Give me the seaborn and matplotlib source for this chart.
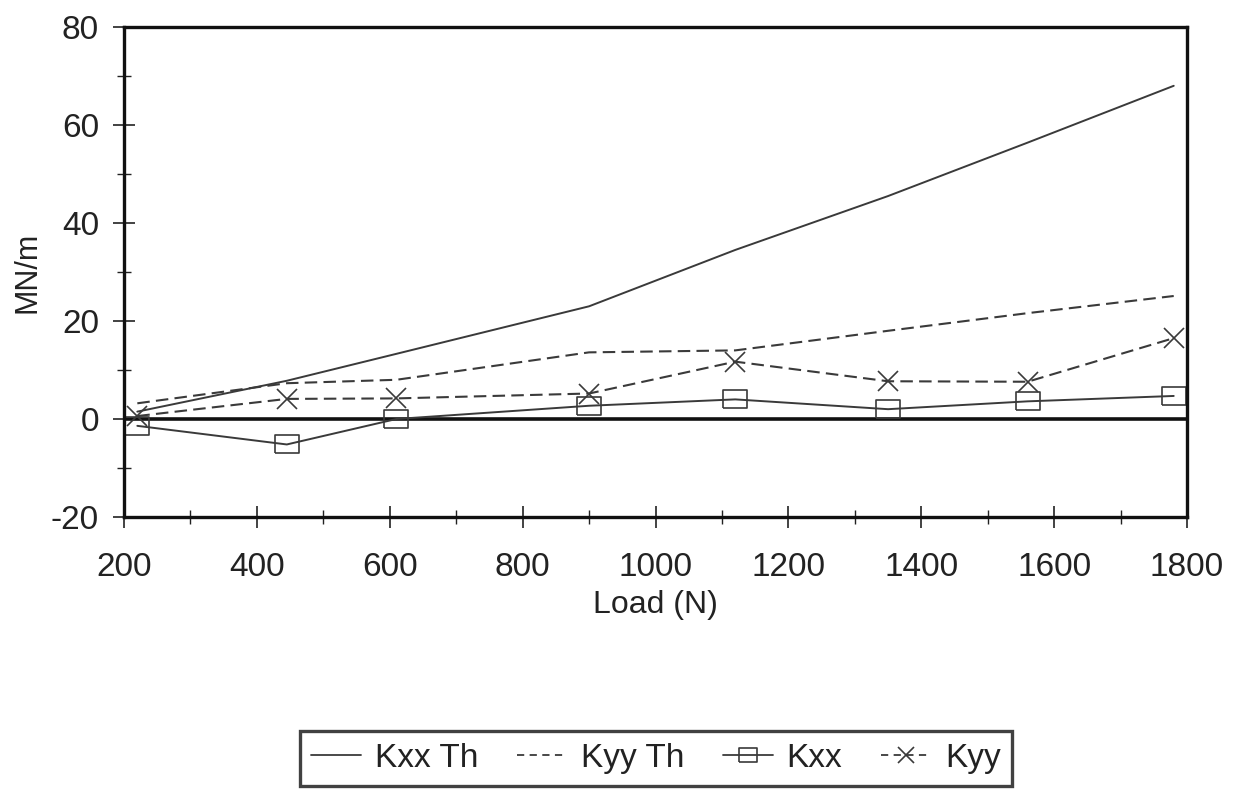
import matplotlib
matplotlib.use("Agg")
import matplotlib.pyplot as plt
import seaborn as sns
from matplotlib.lines import Line2D
from matplotlib.ticker import MultipleLocator

# Stiffness versus bearing load: theoretical curves and measured points
load = [220, 445, 610, 900, 1120, 1350, 1560, 1780]
kxx_th = [1.5, 7.8, 13.3, 23.0, 34.5, 45.5, 56.4, 68.0]
kyy_th = [3.2, 7.3, 8.0, 13.6, 14.0, 18.0, 21.6, 25.1]
kxx = [-1.4, -5.2, 0.0, 2.7, 4.0, 2.0, 3.6, 4.7]
kyy = [0.6, 4.1, 4.2, 5.2, 11.7, 7.7, 7.6, 16.5]

series_labels = ["Kxx Th", "Kyy Th", "Kxx", "Kyy"]
x_ticks = [200, 400, 600, 800, 1000, 1200, 1400, 1600, 1800]
y_ticks = [-20, 0, 20, 40, 60, 80]

sns.set_theme(style="white")
plt.rcParams["font.family"] = ["Liberation Sans", "DejaVu Sans"]
plt.rcParams["axes.unicode_minus"] = False

fig = plt.figure(figsize=(12.33, 7.90), dpi=100)
ax = fig.add_axes([0.1006, 0.3456, 0.8621, 0.6202])

line_col = "#3a3a3a"
dash = (0, (6, 3))
rect_marker = [(-1.3, -1), (1.3, -1), (1.3, 1), (-1.3, 1), (-1.3, -1)]

sns.lineplot(x=load, y=kxx_th, ax=ax, color=line_col, lw=1.4)
sns.lineplot(x=load, y=kyy_th, ax=ax, color=line_col, lw=1.5, linestyle=dash)
sns.lineplot(x=load, y=kxx, ax=ax, color=line_col, lw=1.4,
             marker=rect_marker, markersize=17, markerfacecolor="none",
             markeredgecolor=line_col, markeredgewidth=1.2)
sns.lineplot(x=load, y=kyy, ax=ax, color=line_col, lw=1.5, linestyle=dash,
             marker="x", markersize=14, markeredgewidth=1.2,
             markeredgecolor=line_col)

# heavy zero reference line
ax.axhline(0, color="#111111", lw=2.6, zorder=1)

ax.set_xlim(200, 1800)
ax.set_ylim(-20, 80)
ax.set_xticks(x_ticks)
ax.set_yticks(y_ticks)
ax.xaxis.set_minor_locator(MultipleLocator(100))
ax.yaxis.set_minor_locator(MultipleLocator(10))
ax.tick_params(axis="both", which="major", direction="inout", length=16,
               width=1.2, color="#222222", labelsize=24, labelcolor="#222222",
               bottom=True, left=True)
ax.tick_params(axis="x", which="major", pad=17)
ax.tick_params(axis="y", which="major", pad=10)
ax.tick_params(axis="both", which="minor", direction="inout", length=10,
               width=1.0, color="#222222", bottom=True, left=True)

for side in ["left", "bottom", "top", "right"]:
    ax.spines[side].set_visible(True)
    ax.spines[side].set_color("#111111")
    ax.spines[side].set_linewidth(2.4)

ax.set_xlabel("Load (N)", fontsize=23, color="#222222", labelpad=5)
ax.set_ylabel("MN/m", fontsize=22, color="#222222", labelpad=6)
ax.grid(False)

handles = [
    Line2D([], [], color=line_col, lw=1.3),
    Line2D([], [], color=line_col, lw=1.3, linestyle=(0, (4, 3))),
    Line2D([], [], color=line_col, lw=1.3, marker=rect_marker, markersize=13,
           markerfacecolor="none", markeredgecolor=line_col, markeredgewidth=1.2),
    Line2D([], [], color=line_col, lw=1.3, linestyle=(0, (4, 3)), marker="x",
           markersize=11, markeredgewidth=1.2, markeredgecolor=line_col),
]
leg = fig.legend(handles, series_labels, loc="center",
                 bbox_to_anchor=(0.532, 0.040), ncol=4, fontsize=24,
                 frameon=True, fancybox=False, handlelength=1.5,
                 handletextpad=0.42, columnspacing=1.15, borderpad=0.35,
                 numpoints=1)
leg.get_frame().set_edgecolor("#111111")
leg.get_frame().set_linewidth(2.4)
for t in leg.get_texts():
    t.set_color("#222222")

fig.savefig("out.png", dpi=100, facecolor="white")
